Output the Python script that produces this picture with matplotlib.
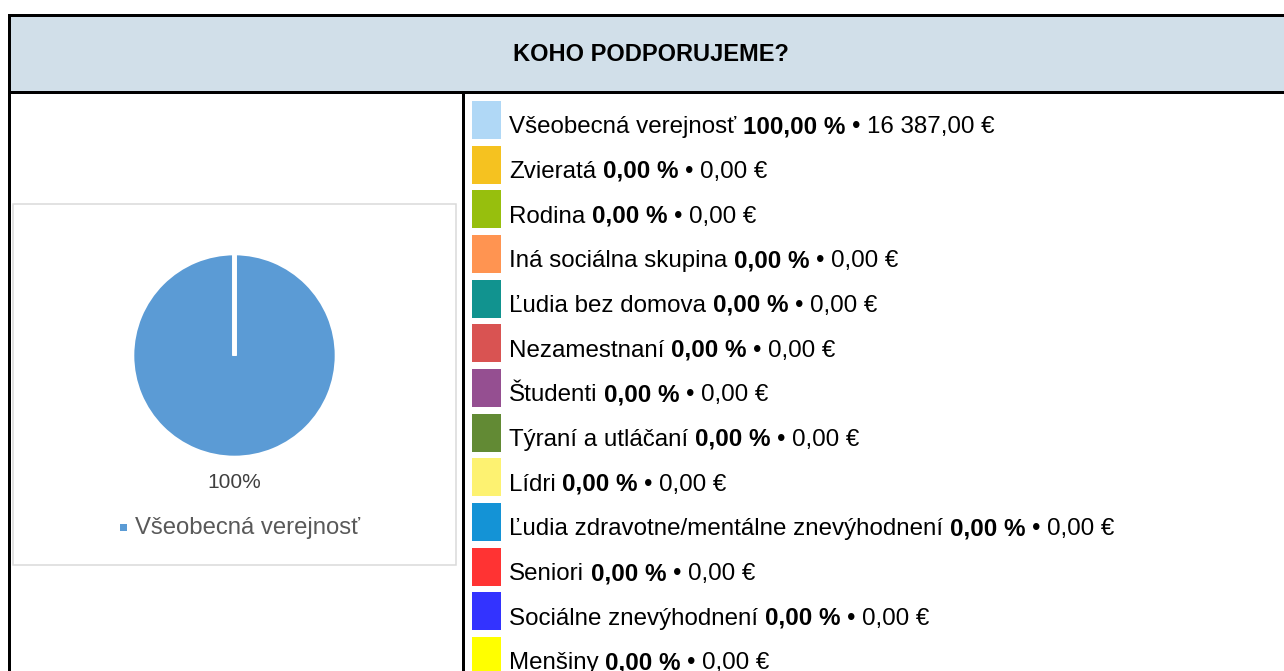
import matplotlib
matplotlib.use('Agg')
import matplotlib.pyplot as plt
from matplotlib.patches import Rectangle

plt.rcParams['font.family'] = ['Liberation Sans', 'DejaVu Sans']

# data
title = 'KOHO PODPORUJEME?'
categories = ['Všeobecná verejnosť', 'Zvieratá', 'Rodina', 'Iná sociálna skupina',
              'Ľudia bez domova', 'Nezamestnaní', 'Študenti', 'Týraní a utláčaní',
              'Lídri', 'Ľudia zdravotne/mentálne znevýhodnení', 'Seniori',
              'Sociálne znevýhodnení', 'Menšiny']
percentages = [100.0, 0, 0, 0, 0, 0, 0, 0, 0, 0, 0, 0, 0]
amounts = [16387.00, 0, 0, 0, 0, 0, 0, 0, 0, 0, 0, 0, 0]
colors = ['#b0d8f6', '#f5c220', '#97bf0d', '#ff9451', '#11938f', '#d95352', '#954f91',
          '#628a34', '#fdf271', '#1493d6', '#ff3333', '#3333ff', '#ffff00']
pie_color = '#5b9bd5'


def sk_num(v):
  return f'{v:,.2f}'.replace(',', ' ').replace('.', ',')


W, H = 1284, 671
px = 72 / 100  # points per pixel
fig = plt.figure(figsize=(W / 100, H / 100), dpi=100)
bg = fig.add_axes([0, 0, 1, 1])
bg.set_xlim(0, W)
bg.set_ylim(H, 0)
bg.axis('off')

# table frame
bg.add_patch(Rectangle((8.5, 14.5), W, 78, facecolor='#d1dfe9', edgecolor='none'))
lw = 3 * px
bg.plot([8.5, W + 5], [14.5, 14.5], color='black', lw=lw, solid_capstyle='projecting')
bg.plot([8.5, W + 5], [92.2, 92.2], color='black', lw=lw, solid_capstyle='projecting')
bg.plot([8.5, 8.5], [14.5, H + 5], color='black', lw=lw, solid_capstyle='projecting')
bg.plot([462.5, 462.5], [92.2, H + 5], color='black', lw=lw)
bg.text(651, 61, title, fontsize=17, fontweight='bold', ha='center', va='baseline')

# chart box
bg.add_patch(Rectangle((13.3, 204.3), 442.7, 360.2, facecolor='white',
                       edgecolor='#d9d9d9', lw=1.5 * px))

# pie
cx, cy = 234.5, 355.5
pax = fig.add_axes([(cx - 110) / W, 1 - (cy + 110) / H, 220 / W, 220 / H])
wedges, _, autotexts = pax.pie(
  percentages, colors=[pie_color] * len(percentages), startangle=90,
  counterclock=False, radius=1.02,
  autopct=lambda p: f'{p:.0f}%' if p > 0 else '', pctdistance=1.25,
  wedgeprops=dict(edgecolor='white', linewidth=2.6),
  textprops=dict(fontsize=15, color='#404040'))
pax.set_xlim(-1.1, 1.1)
pax.set_ylim(-1.1, 1.1)

# pie legend (only nonzero entries)
shown = [i for i, p in enumerate(percentages) if p > 0]
for k, i in enumerate(shown):
  bg.add_patch(Rectangle((119.5, 523.5), 7, 7, facecolor=pie_color, edgecolor='none'))
  bg.text(135, 534, categories[i], fontsize=17.2, color='#595959', va='baseline')

# right legend list
renderer = fig.canvas.get_renderer()
inv = bg.transData.inverted()
fs = 17.4
space = 0.27 * fs / px
for i, cat in enumerate(categories):
  top = 101 + i * 44.67
  bg.add_patch(Rectangle((472, top), 29, 38, facecolor=colors[i], edgecolor='none'))
  base = top + 32.3
  parts = [(cat, 'normal'), (sk_num(percentages[i]) + ' %', 'bold'),
           ('•', 'normal'), (sk_num(amounts[i]) + ' €', 'normal')]
  x = 509
  for txt, weight in parts:
    t = bg.text(x, base, txt, fontsize=fs, fontweight=weight, va='baseline', ha='left')
    bb = t.get_window_extent(renderer)
    x = inv.transform((bb.x1, 0))[0] + space

fig.savefig('out.png', dpi=100)
